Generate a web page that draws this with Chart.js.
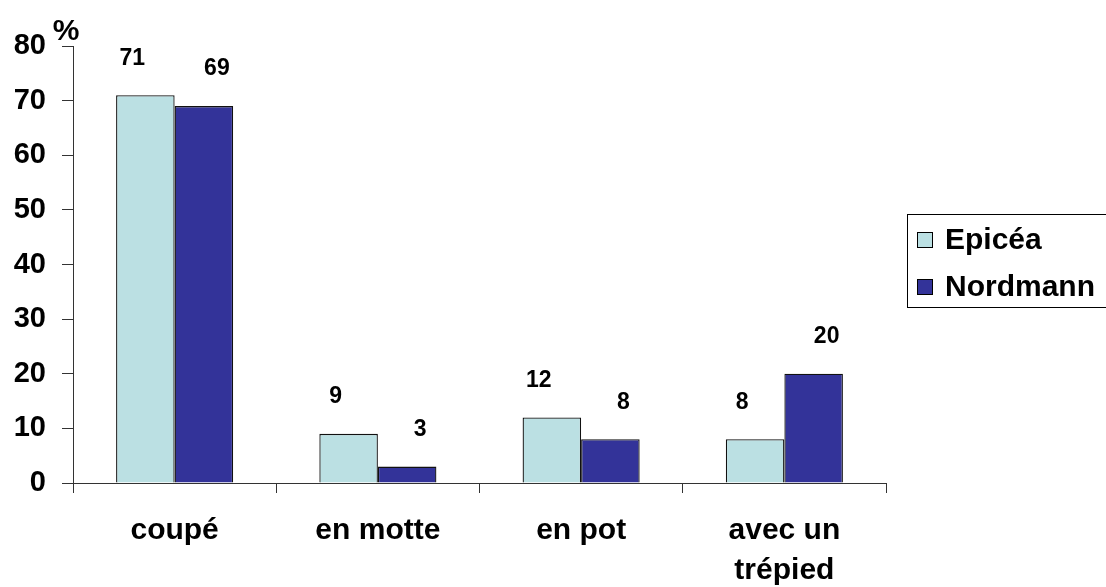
<!DOCTYPE html>
<html>
<head>
<meta charset="utf-8">
<script src="https://cdn.jsdelivr.net/npm/chart.js@4"></script>
<style>
  html, body { margin: 0; padding: 0; background: #fff; }
  #wrap { width: 1106px; height: 587px; }
</style>
</head>
<body>
<div id="wrap"><canvas id="chart" width="1106" height="587"></canvas></div>
<script>
// chart values
const categories = ['coupé', 'en motte', 'en pot', ['avec un', 'trépied']];
const epicea = [71, 9, 12, 8];
const nordmann = [69, 3, 8, 20];
const seriesNames = ['Epicéa', 'Nordmann'];
const seriesColors = ['#BBE0E3', '#333399'];
const yTicks = [0, 10, 20, 30, 40, 50, 60, 70, 80];

const FONT = '"Liberation Sans", Arial, sans-serif';

// value labels above each bar (first series nudged left, second right)
const valueLabels = {
    id: 'valueLabels',
    afterDatasetsDraw(chart) {
        const ctx = chart.ctx;
        ctx.save();
        ctx.font = 'bold 23px ' + FONT;
        ctx.fillStyle = '#000';
        ctx.textAlign = 'center';
        ctx.textBaseline = 'middle';
        chart.data.datasets.forEach((ds, i) => {
            const shift = i === 0 ? -13 : 13;
            chart.getDatasetMeta(i).data.forEach((bar, j) => {
                ctx.fillText(String(ds.data[j]), bar.x + shift, bar.y - 37);
            });
        });
        ctx.restore();
    }
};

// unit label + boxed legend on the right
const extras = {
    id: 'extras',
    afterDraw(chart) {
        const ctx = chart.ctx;
        ctx.save();
        ctx.font = 'bold 30px ' + FONT;
        ctx.fillStyle = '#000';
        ctx.textAlign = 'center';
        ctx.textBaseline = 'middle';
        ctx.fillText('%', 66, 32);

        // legend box
        ctx.strokeStyle = '#000';
        ctx.lineWidth = 1;
        ctx.strokeRect(907.5, 214.5, 210, 93);
        ctx.textAlign = 'left';
        seriesNames.forEach((name, i) => {
            const cy = 240 + i * 47;
            ctx.fillStyle = seriesColors[i];
            ctx.fillRect(917, cy - 8, 16, 16);
            ctx.strokeStyle = '#000';
            ctx.strokeRect(917.5, cy - 7.5, 15, 15);
            ctx.fillStyle = '#000';
            ctx.fillText(name, 945, cy + 1);
        });
        ctx.restore();
    }
};

new Chart(document.getElementById('chart'), {
    type: 'bar',
    data: {
        labels: categories,
        datasets: [
            {
                label: seriesNames[0],
                data: epicea,
                backgroundColor: seriesColors[0],
                borderColor: '#111',
                borderWidth: 1.3
            },
            {
                label: seriesNames[1],
                data: nordmann,
                backgroundColor: seriesColors[1],
                borderColor: '#111',
                borderWidth: 1.3
            }
        ]
    },
    options: {
        responsive: false,
        animation: false,
        datasets: {
            bar: { categoryPercentage: 0.576, barPercentage: 1.0 }
        },
        layout: { padding: { left: 0, top: 46, right: 220, bottom: 0 } },
        plugins: {
            legend: { display: false },
            tooltip: { enabled: false }
        },
        scales: {
            x: {
                afterFit(scale) { scale.height = 104; },
                grid: {
                    display: true,
                    offset: true,
                    drawOnChartArea: false,
                    drawTicks: true,
                    tickLength: 10,
                    color: '#333'
                },
                border: { display: true, color: '#333', width: 1 },
                ticks: {
                    color: '#000',
                    padding: 18,
                    font: { family: FONT, size: 30, weight: 'bold', lineHeight: 1.33 }
                }
            },
            y: {
                min: 0,
                max: 80,
                afterFit(scale) { scale.width = 73; },
                afterBuildTicks(scale) {
                    scale.ticks = yTicks.map(v => ({ value: v }));
                },
                grid: {
                    display: true,
                    drawOnChartArea: false,
                    drawTicks: true,
                    tickLength: 11,
                    color: '#333'
                },
                border: { display: true, color: '#333', width: 1 },
                ticks: {
                    color: '#000',
                    padding: 16,
                    font: { family: FONT, size: 29, weight: 'bold' }
                }
            }
        }
    },
    plugins: [valueLabels, extras]
});
</script>
</body>
</html>
